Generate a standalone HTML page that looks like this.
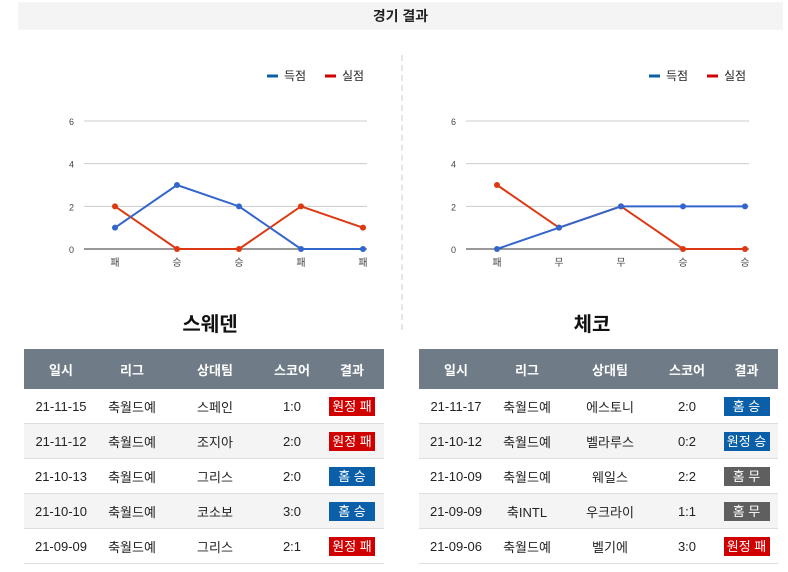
<!DOCTYPE html>
<html><head><meta charset="utf-8">
<style>
body{margin:0;width:788px;height:572px;background:#fff;font-family:"Liberation Sans","Noto Sans CJK KR",sans-serif;position:relative;overflow:hidden}
.abs{position:absolute}
.title{left:18px;top:2px;width:765px;height:28px;background:#f4f4f4;text-align:center;line-height:28px;font-size:14px;font-weight:bold;color:#222}
.div{left:401px;top:55px;height:275px;border-left:2px dashed #e6e6e6}
.team{font-size:20px;font-weight:bold;color:#111;text-align:center;width:200px}
table{position:absolute;border-collapse:collapse;font-size:13px;color:#222}
th{background:#6f7b86;color:#fff;height:38px;font-weight:bold;font-size:13px}
td{height:32px;text-align:center;border-bottom:1px solid #ddd}
tr.alt td{background:#f4f4f4}
.b{display:inline-block;width:46px;height:19px;line-height:19px;color:#fff;font-size:13px}
.r{background:#d10000}.bl{background:#0a5fa8}.g{background:#5f5f5f}
</style></head><body>
<div class="abs title">경기 결과</div>
<div class="abs div"></div>
<svg class="abs" style="left:0;top:0" width="788" height="300" id="charts"></svg>
<div class="abs team" style="left:110px;top:308px">스웨덴</div>
<div class="abs team" style="left:492px;top:308px">체코</div>

<table style="left:24px;top:349px;width:360px">
<tr><th style="width:72px">일시</th><th style="width:66px">리그</th><th style="width:96px">상대팀</th><th style="width:54px">스코어</th><th>결과</th></tr>
<tr><td>21-11-15</td><td>축월드예</td><td>스페인</td><td>1:0</td><td><span class="b r">원정 패</span></td></tr>
<tr class="alt"><td>21-11-12</td><td>축월드예</td><td>조지아</td><td>2:0</td><td><span class="b r">원정 패</span></td></tr>
<tr><td>21-10-13</td><td>축월드예</td><td>그리스</td><td>2:0</td><td><span class="b bl">홈 승</span></td></tr>
<tr class="alt"><td>21-10-10</td><td>축월드예</td><td>코소보</td><td>3:0</td><td><span class="b bl">홈 승</span></td></tr>
<tr><td>21-09-09</td><td>축월드예</td><td>그리스</td><td>2:1</td><td><span class="b r">원정 패</span></td></tr>
</table>
<table style="left:419px;top:349px;width:359px">
<tr><th style="width:72px">일시</th><th style="width:66px">리그</th><th style="width:96px">상대팀</th><th style="width:54px">스코어</th><th>결과</th></tr>
<tr><td>21-11-17</td><td>축월드예</td><td>에스토니</td><td>2:0</td><td><span class="b bl">홈 승</span></td></tr>
<tr class="alt"><td>21-10-12</td><td>축월드예</td><td>벨라루스</td><td>0:2</td><td><span class="b bl">원정 승</span></td></tr>
<tr><td>21-10-09</td><td>축월드예</td><td>웨일스</td><td>2:2</td><td><span class="b g">홈 무</span></td></tr>
<tr class="alt"><td>21-09-09</td><td>축INTL</td><td>우크라이</td><td>1:1</td><td><span class="b g">홈 무</span></td></tr>
<tr><td>21-09-06</td><td>축월드예</td><td>벨기에</td><td>3:0</td><td><span class="b r">원정 패</span></td></tr>
</table>
<script>
const categoriesL=["패","승","승","패","패"];
const scoredL=[1,3,2,0,0];
const concededL=[2,0,0,2,1];
const categoriesR=["패","무","무","승","승"];
const scoredR=[0,1,2,2,2];
const concededR=[3,1,2,0,0];
const yTicks=[0,2,4,6];
const NS="http://www.w3.org/2000/svg";
const svg=document.getElementById('charts');
function mk(t,a){const e=document.createElementNS(NS,t);for(const k in a)e.setAttribute(k,a[k]);svg.appendChild(e);return e;}
function chart(ox,cats,s1,s2,name){
  const x0=84+ox,x1=367+ox;
  const y=v=>249-v*21.33;
  const x=i=>115+ox+i*62;
  yTicks.forEach(t=>{
    const l=mk('line',{x1:x0,x2:x1,y1:y(t),y2:y(t),stroke:t==0?'#333':'#ccc','stroke-width':1});
    
    
    const tx=mk('text',{x:x0-10,y:y(t)+4,'font-size':9,fill:'#444','text-anchor':'end'});
    tx.textContent=t;
    
    
  });
  cats.forEach((c,i)=>{
    const tx=mk('text',{x:x(i),y:266,'font-size':10,fill:'#444','text-anchor':'middle'});
    tx.textContent=c;
    
    
  });
  [[s2,'#dc3912','conceded'],[s1,'#3366cc','scored']].forEach(([d,col,n])=>{
    const p=mk('polyline',{points:d.map((v,i)=>x(i)+','+y(v)).join(' '),fill:'none',stroke:col,'stroke-width':2});
    
    
    d.forEach((v,i)=>{
      const c=mk('circle',{cx:x(i),cy:y(v),r:3,fill:col});
      
      
    });
  });
  [['득점','#0a5fa8',267],['실점','#d10000',325]].forEach(([t,col,lx])=>{
    const l=mk('line',{x1:lx+ox,x2:lx+ox+11,y1:76,y2:76,stroke:col,'stroke-width':3});
    
    
    const tx=mk('text',{x:lx+ox+17,y:80,'font-size':12,fill:'#222'});
    tx.textContent=t;
    
    
  });
}
chart(0,categoriesL,scoredL,concededL,'sweden');
chart(382,categoriesR,scoredR,concededR,'czech');
</script>
</body></html>
